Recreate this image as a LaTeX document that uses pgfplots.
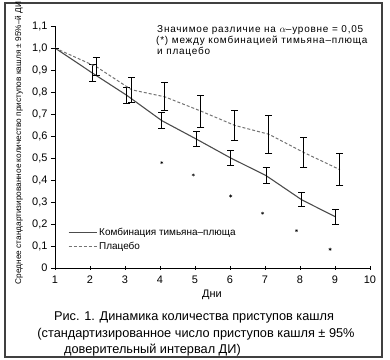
\documentclass[border=0pt]{standalone}
\usepackage{fontspec}
\setmainfont{Liberation Sans}
\newfontfamily\wide[LetterSpace=8]{Liberation Sans}
\usepackage{pgfplots}
\pgfplotsset{compat=1.18}

\pgfplotstableread{
x y e
1 1.00 0
2.08 0.885 0.038
3.05 0.785 0.036
4.05 0.670 0.036
5.05 0.585 0.034
6.02 0.500 0.034
7.03 0.420 0.035
8.05 0.310 0.031
9.02 0.232 0.032
}\combo

\pgfplotstableread{
x y e
1 1.00 0
2.18 0.915 0.040
3.19 0.810 0.057
4.14 0.778 0.063
5.17 0.713 0.073
6.14 0.648 0.067
7.11 0.608 0.086
8.11 0.525 0.070
9.14 0.447 0.074
}\placebo

\begin{document}
\begin{tikzpicture}
\useasboundingbox (0,0) rectangle (390bp,-360bp);
\draw[line width=1.5bp, black!75] (5bp,-3bp) rectangle (382bp,-357bp);

\begin{axis}[
  at={(55bp,-268bp)}, anchor=south west,
  scale only axis, width=315bp, height=242bp,
  xmin=1, xmax=10, ymin=0, ymax=1.1,
  axis x line*=bottom, axis y line*=left,
  axis line style={black, line width=0.8bp},
  xtick={1,2,3,4,5,6,7,8,9,10},
  ytick={0,0.1,0.2,0.3,0.4,0.5,0.6,0.7,0.8,0.9,1.0,1.1},
  yticklabels={0,{0,1},{0,2},{0,3},{0,4},{0,5},{0,6},{0,7},{0,8},{0,9},{1,0},{1,1}},
  tick align=outside, major tick length=4bp,
  tick style={black, line width=0.8bp},
  xtick style={yshift=2.5bp},
  ticklabel style={font=\fontsize{11}{13}\selectfont},
  /pgf/number format/assume math mode=true,
  clip=false,
  legend style={at={(0.041,0.174)}, anchor=north west, draw=none, fill=none,
    inner sep=0pt, font=\fontsize{10}{12}\selectfont, row sep=1bp,
    legend cell align=left},
  legend image code/.code={\draw[#1] (0bp,0bp) -- (28bp,0bp);},
]
\addplot[black!70, line width=1.1bp, mark=none,
  error bars/.cd, y dir=both, y explicit,
  error bar style={black, line width=1bp, solid},
  error mark options={rotate=90, black, mark size=3.5bp, line width=1bp, solid}]
  table[x=x, y=y, y error=e] {\combo};
\addlegendentry{Комбинация тимьяна–плюща}
\addplot[black!55, line width=1bp, dash pattern=on 3bp off 2bp, mark=none,
  error bars/.cd, y dir=both, y explicit,
  error bar style={black, line width=1bp, solid},
  error mark options={rotate=90, black, mark size=3.5bp, line width=1bp, solid}]
  table[x=x, y=y, y error=e] {\placebo};
\addlegendentry{Плацебо}
\addplot[forget plot, only marks, mark=asterisk, mark size=1.6bp, black]
  coordinates {(4.05,0.479) (4.95,0.423) (6.02,0.327) (6.93,0.249) (7.9,0.170) (8.86,0.085)};
\end{axis}

\node[anchor=base west, inner sep=0pt, font=\wide\fontsize{10}{12}\selectfont] at (157bp,-32bp) {Значимое различие на $\alpha$–уровне = 0,05};
\node[anchor=base west, inner sep=0pt, font=\wide\fontsize{10}{12}\selectfont] at (156bp,-43bp) {(*) между комбинацией тимьяна–плюща};
\node[anchor=base west, inner sep=0pt, font=\wide\fontsize{10}{12}\selectfont] at (157bp,-54bp) {и плацебо};

\node[rotate=90, inner sep=0pt, font=\fontsize{8.3}{9}\selectfont] at (19bp,-143bp) {Среднее стандартизированное количество приступов кашля ± 95\%–й ДИ};

\node[anchor=base, inner sep=0pt, font=\fontsize{11}{13}\selectfont] at (212bp,-297bp) {Дни};

\node[anchor=base, inner sep=0pt, font=\fontsize{12.8}{15}\selectfont] at (194bp,-320bp) {Рис. 1. Динамика количества приступов кашля};
\node[anchor=base, inner sep=0pt, font=\fontsize{12.8}{15}\selectfont] at (196bp,-337bp) {(стандартизированное число приступов кашля ± 95\%};
\node[anchor=base west, inner sep=0pt, font=\fontsize{12.8}{15}\selectfont] at (64bp,-353bp) {доверительный интервал ДИ)};
\end{tikzpicture}
\end{document}
